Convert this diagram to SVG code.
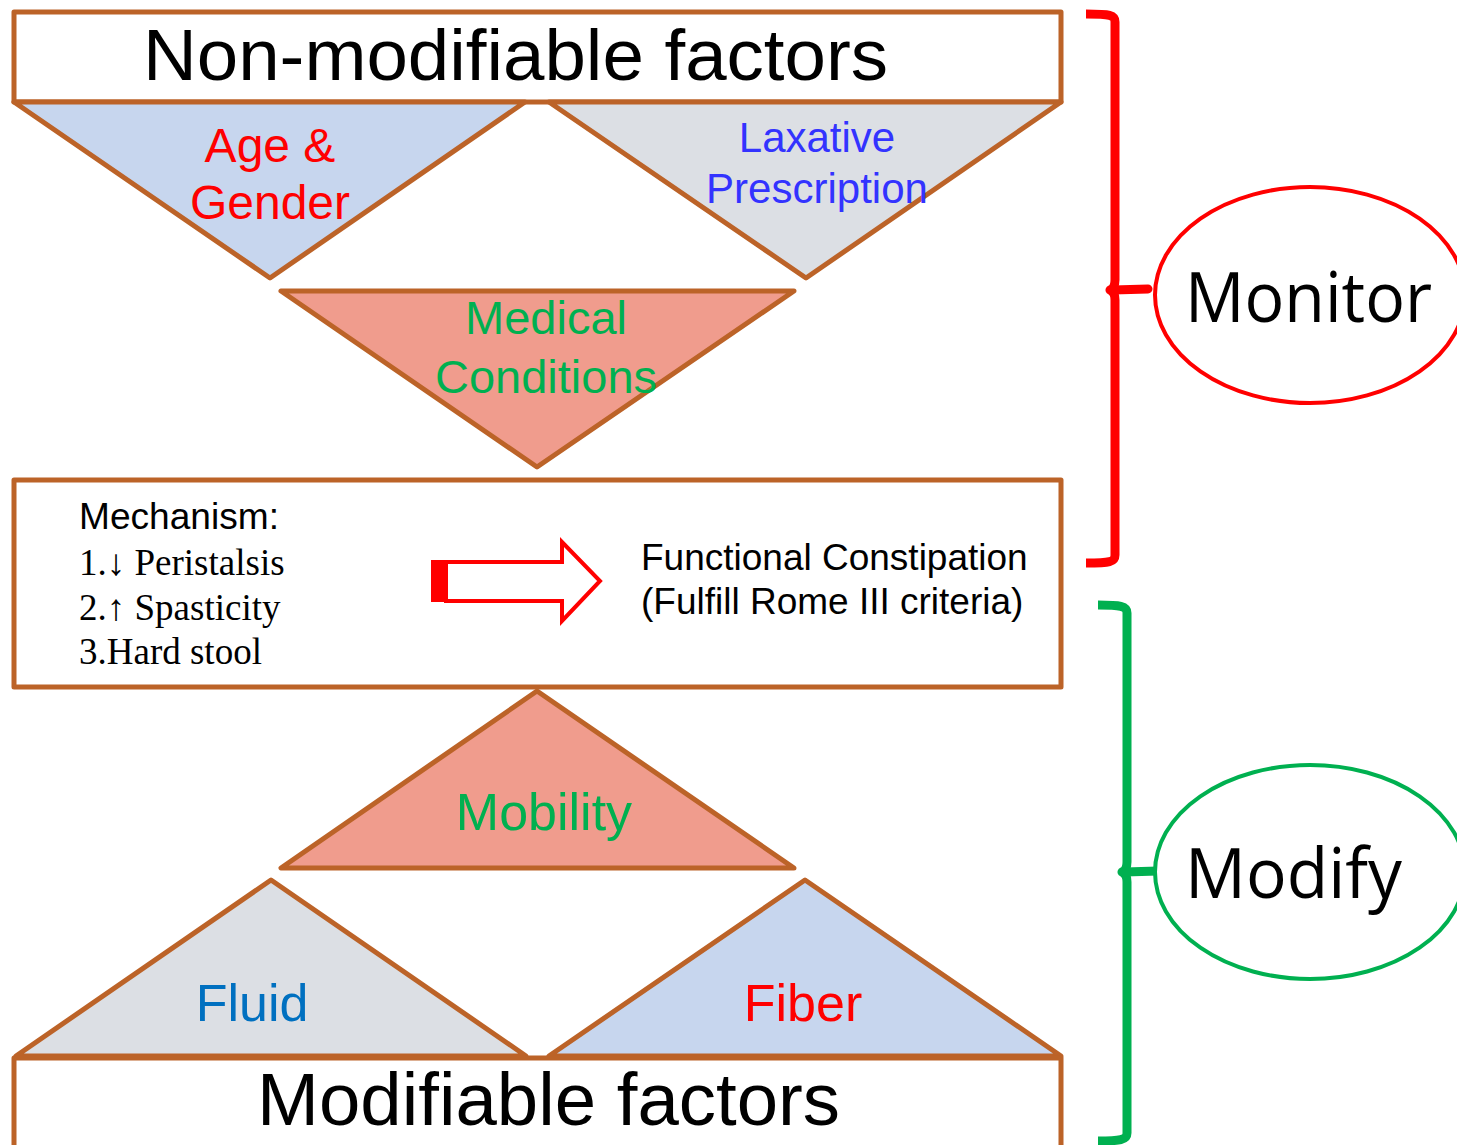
<svg xmlns="http://www.w3.org/2000/svg" width="1457" height="1145" viewBox="0 0 1457 1145">
<style>
.box{fill:#fff;stroke:#BC6328;stroke-width:5;stroke-linejoin:round}
.tri{stroke:#BC6328;stroke-width:5;stroke-linejoin:round}
.blue{fill:#C7D6EE}.gray{fill:#DCDFE4}.salmon{fill:#F09C8D}
.sans{font-family:"Liberation Sans",Arial,sans-serif}
.serif{font-family:"Liberation Serif","Times New Roman",serif}
.os{font-family:"Open Sans","Noto Sans",sans-serif}
</style>
<rect width="1457" height="1145" fill="#fff"/>
<g id="nonmod">
<rect class="box" x="14" y="12" width="1047" height="90"/>
<text class="sans" x="143" y="80" font-size="73" textLength="745" lengthAdjust="spacingAndGlyphs" fill="#000">Non-modifiable factors</text>
</g>
<g id="age">
<polygon class="tri blue" points="14,102 525,102 270,278"/>
<text class="sans" font-size="48" fill="#FF0000" text-anchor="middle"><tspan x="270" y="162">Age &amp;</tspan><tspan x="270" y="219">Gender</tspan></text>
</g>
<g id="laxative">
<polygon class="tri gray" points="549,102 1061,102 806,278"/>
<text class="sans" font-size="42" fill="#3333FF" text-anchor="middle"><tspan x="817" y="152">Laxative</tspan><tspan x="817" y="203">Prescription</tspan></text>
</g>
<g id="medical">
<polygon class="tri salmon" points="281,291 794,291 537,467"/>
<text class="sans" font-size="47" fill="#00B050" text-anchor="middle"><tspan x="546" y="334">Medical</tspan><tspan x="546" y="393">Conditions</tspan></text>
</g>
<g id="mechanism">
<rect class="box" x="14" y="480" width="1047" height="207"/>
<text class="sans" x="79" y="529" font-size="36" textLength="200" lengthAdjust="spacingAndGlyphs" fill="#000">Mechanism:</text>
<text class="serif" font-size="37" fill="#000"><tspan x="79" y="575">1.↓ Peristalsis</tspan><tspan x="79" y="620">2.↑ Spasticity</tspan><tspan x="79" y="664">3.Hard stool</tspan></text>
<text class="sans" font-size="37" fill="#000"><tspan x="641" y="570">Functional Constipation</tspan><tspan x="641" y="614">(Fulfill Rome III criteria)</tspan></text>
</g>
<g id="connectors">
<polygon points="446,562 562,562 562,542 600,581 562,621 562,601 446,601" fill="#fff" stroke="#FF0000" stroke-width="4"/>
<rect x="431" y="560" width="16" height="42" fill="#FF0000"/>
<path d="M1086,14 C1110,14 1115,15 1115,22 L1115,280 Q1115,288 1110,290 Q1115,292 1115,300 L1115,555 C1115,562 1110,563 1086,563" fill="none" stroke="#FF0000" stroke-width="9" stroke-linejoin="round"/>
<path d="M1113,290 L1148,289" fill="none" stroke="#FF0000" stroke-width="9" stroke-linecap="round"/>
<path d="M1098,605 C1120,605 1127,606 1127,613 L1127,862 Q1127,870 1122,872 Q1127,874 1127,882 L1127,1133 C1127,1140 1120,1141 1098,1141" fill="none" stroke="#00B050" stroke-width="9" stroke-linejoin="round"/>
<path d="M1125,872 L1158,871" fill="none" stroke="#00B050" stroke-width="9" stroke-linecap="round"/>
</g>
<g id="monitor">
<ellipse cx="1310" cy="295" rx="155" ry="108" fill="#fff" stroke="#FF0000" stroke-width="4"/>
<text class="os" x="1185" y="322" font-size="70" textLength="247" lengthAdjust="spacingAndGlyphs" fill="#000">Monitor</text>
</g>
<g id="modify">
<ellipse cx="1310" cy="872" rx="155" ry="107" fill="#fff" stroke="#00B050" stroke-width="4"/>
<text class="os" x="1185" y="898" font-size="70" textLength="217" lengthAdjust="spacingAndGlyphs" fill="#000">Modify</text>
</g>
<g id="mobility">
<polygon class="tri salmon" points="281,868 794,868 537,691"/>
<text class="sans" x="544" y="830" font-size="52" fill="#00B050" text-anchor="middle">Mobility</text>
</g>
<g id="fluid">
<polygon class="tri gray" points="16,1056 526,1056 271,880"/>
<text class="sans" x="252" y="1021" font-size="52" fill="#0070C0" text-anchor="middle">Fluid</text>
</g>
<g id="fiber">
<polygon class="tri blue" points="549,1056 1061,1056 805,880"/>
<text class="sans" x="803" y="1021" font-size="52" fill="#FF0000" text-anchor="middle">Fiber</text>
</g>
<g id="modfactors">
<rect class="box" x="14" y="1058" width="1047" height="100"/>
<text class="sans" x="257" y="1125" font-size="74" textLength="583" lengthAdjust="spacingAndGlyphs" fill="#000">Modifiable factors</text>
</g>
</svg>
